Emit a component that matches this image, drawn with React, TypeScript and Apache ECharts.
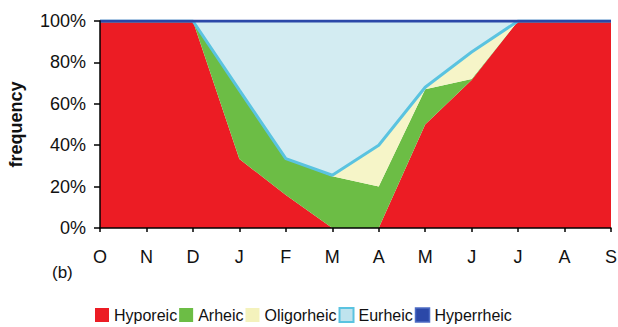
import React, { useEffect, useRef } from "react";
import * as echarts from "echarts";

const months = ["O", "N", "D", "J", "F", "M", "A", "M", "J", "J", "A", "S"];
const hyporeic = [100, 100, 100, 33.3, 16, 0, 0, 50, 71.5, 100, 100, 100];
const arheic = [0, 0, 0, 33.3, 17.5, 25, 20, 17, 0.5, 0, 0, 0];
const oligorheic = [0, 0, 0, 0, 0, 0.5, 20, 1, 13, 0, 0, 0];
const eurheic = [0, 0, 0, 33.4, 66.5, 74.5, 60, 32, 15, 0, 0, 0];
const hyperrheic = [0, 0, 0, 0, 0, 0, 0, 0, 0, 0, 0, 0];
const seriesNames = ["Hyporeic", "Arheic", "Oligorheic", "Eurheic", "Hyperrheic"];

const FONT = "Liberation Sans, Arial, sans-serif";

export default function App() {
  const ref = useRef<HTMLDivElement>(null);
  useEffect(() => {
    if (!ref.current) return;
    const chart = echarts.init(ref.current, null, { renderer: "svg" });
    const area = (name: string, data: number[], fill: string, extra: any = {}) => ({
      name,
      type: "line",
      stack: "total",
      data,
      symbol: "none",
      showSymbol: false,
      itemStyle: { color: fill },
      areaStyle: { color: fill, opacity: 1 },
      lineStyle: { width: 0 },
      emphasis: { disabled: true },
      ...extra,
    });
    chart.setOption({
      animation: false,
      textStyle: { fontFamily: FONT },
      grid: {
        left: 100,
        right: 7,
        top: 21,
        bottom: 99,
        containLabel: false,
        outerBoundsMode: "none",
      },
      xAxis: {
        type: "category",
        data: months,
        boundaryGap: false,
        axisLine: { show: true, lineStyle: { color: "#000", width: 1.5 } },
        axisTick: { show: true, length: 4, interval: 0, lineStyle: { color: "#000", width: 1.5 } },
        axisLabel: { interval: 0, margin: 20, color: "#111", fontSize: 18, fontFamily: FONT },
        splitLine: { show: false },
        z: 10,
      },
      yAxis: {
        type: "value",
        min: 0,
        max: 100,
        interval: 20,
        name: "frequency",
        nameLocation: "middle",
        nameRotate: 90,
        nameGap: 75,
        nameTextStyle: { fontSize: 18, fontWeight: "bold", color: "#111", fontFamily: FONT },
        axisLine: { show: true, lineStyle: { color: "#000", width: 1.5 } },
        axisTick: { show: true, length: 6, lineStyle: { color: "#000", width: 1.5 } },
        axisLabel: { formatter: "{value}%", margin: 14, color: "#111", fontSize: 18, fontFamily: FONT },
        splitLine: { show: false },
        z: 10,
      },
      legend: {
        left: 90,
        top: 302,
        icon: "rect",
        itemWidth: 14,
        itemHeight: 14,
        itemGap: 2,
        itemStyle: { borderWidth: 0 },
        textStyle: { fontSize: 16, color: "#111", fontFamily: FONT },
        data: [
          { name: seriesNames[0], itemStyle: { color: "#ec1c24" } },
          { name: seriesNames[1], itemStyle: { color: "#6cbd45" } },
          { name: seriesNames[2], itemStyle: { color: "#f4f2bc" } },
          { name: seriesNames[3], itemStyle: { color: "#bfe3ee", borderColor: "#5ac3e0", borderWidth: 2 } },
          { name: seriesNames[4], itemStyle: { color: "#2b48a8", borderColor: "#4d6cc4", borderWidth: 1.5 } },
        ],
      },
      graphic: [
        {
          type: "text",
          left: 52,
          top: 264,
          style: { text: "(b)", fontSize: 17, fill: "#111", fontFamily: FONT },
        },
      ],
      series: [
        area(seriesNames[0], hyporeic, "#ec1c24"),
        area(seriesNames[1], arheic, "#6cbd45"),
        area(seriesNames[2], oligorheic, "#f6f5c8", {
          lineStyle: { width: 3, color: "#5ac3e0" },
          z: 3,
        }),
        area(seriesNames[3], eurheic, "#d3ecf2"),
        area(seriesNames[4], hyperrheic, "#2b48a8", {
          lineStyle: { width: 3, color: "#2b48a8" },
          z: 4,
        }),
      ],
    });
    return () => chart.dispose();
  }, []);
  return (
    <div
      ref={ref}
      style={{ position: "fixed", left: 0, top: 0, width: 618, height: 327, background: "#fff" }}
    />
  );
}
